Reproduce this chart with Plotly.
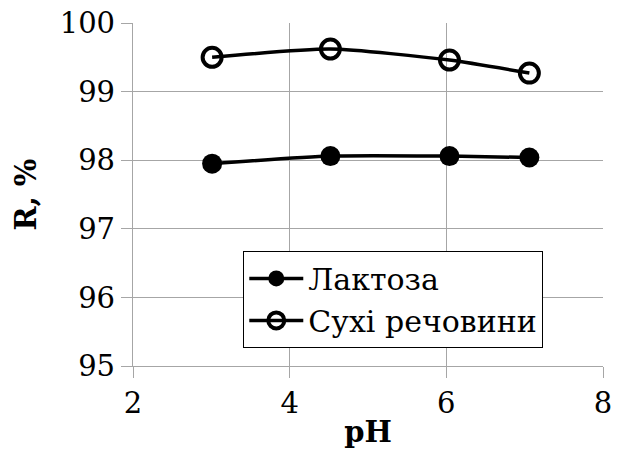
import plotly.graph_objects as go

ph = [3.01, 4.52, 6.04, 7.06]
lactose = [97.95, 98.06, 98.06, 98.04]
dry_matter = [99.50, 99.62, 99.46, 99.27]
x_ticks = [2, 4, 6, 8]
y_ticks = [95, 96, 97, 98, 99, 100]

FONT = "DejaVu Serif"

fig = go.Figure()
fig.add_trace(go.Scatter(
    x=ph, y=lactose, name="Лактоза", mode="lines+markers",
    line=dict(color="black", width=3.5, shape="spline", smoothing=0.6),
    marker=dict(symbol="circle", size=20, color="black"),
))
fig.add_trace(go.Scatter(
    x=ph, y=dry_matter, name="Сухі речовини", mode="lines+markers",
    line=dict(color="black", width=3.5, shape="spline", smoothing=0.6),
    marker=dict(symbol="circle-open", size=19, color="black", line=dict(width=4, color="black")),
))

axis_common = dict(
    showgrid=True, gridcolor="#A6A6A6", gridwidth=1.3,
    showline=True, linecolor="#A6A6A6", linewidth=1.3, mirror=False,
    ticks="outside", ticklen=11, tickcolor="#A6A6A6", tickwidth=1.3,
    tickfont=dict(family=FONT, size=29, color="black"),
    zeroline=False, automargin=False,
)

fig.update_layout(
    width=625, height=457,
    margin=dict(l=133, r=22, t=23, b=91, autoexpand=False),
    paper_bgcolor="white", plot_bgcolor="white",
    font=dict(family=FONT, color="black"),
    showlegend=True,
    legend=dict(
        x=0.234, y=0.335, xanchor="left", yanchor="top",
        bgcolor="white", bordercolor="black", borderwidth=1.3,
        font=dict(family=FONT, size=30, color="black"),
        itemwidth=54, tracegroupgap=0,
    ),
    xaxis=dict(
        range=[2, 8], tickvals=x_ticks,
        title=dict(text="<b>pH</b>", font=dict(family=FONT, size=29, color="black"), standoff=2),
        **axis_common,
    ),
    yaxis=dict(
        range=[95, 100], tickvals=y_ticks,
        title=dict(text="<b>R, %</b>", font=dict(family=FONT, size=29, color="black"), standoff=14),
        **axis_common,
    ),
)

fig.write_html("out.html")
